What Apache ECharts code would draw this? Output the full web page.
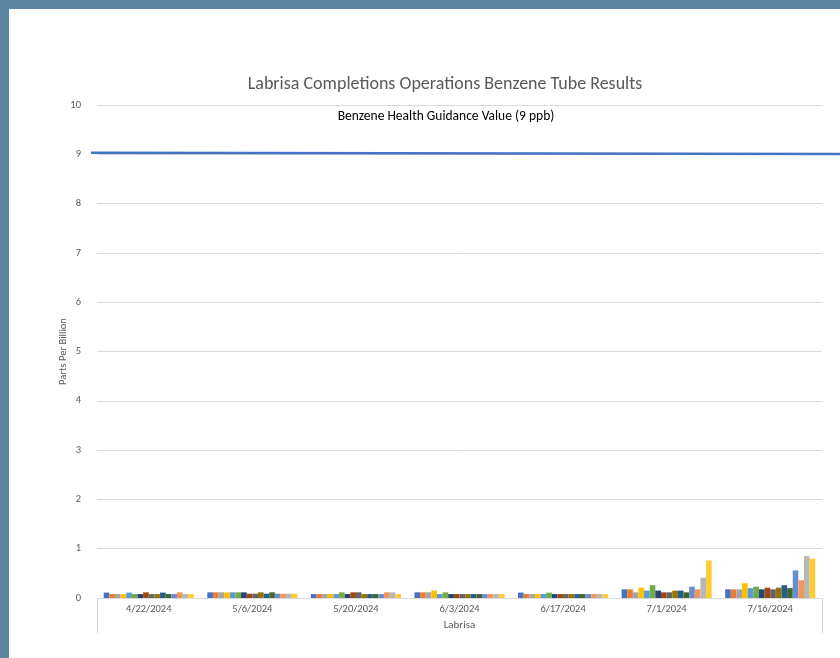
<!DOCTYPE html>
<html>
<head>
<meta charset="utf-8">
<script src="https://cdn.jsdelivr.net/npm/echarts@6/dist/echarts.min.js"></script>
<style>
html,body{margin:0;padding:0;background:#5B87A2;}
#frame{position:absolute;left:9px;top:9px;width:831px;height:649px;background:#fff;}
#chart{position:absolute;left:0;top:0;width:840px;height:658px;}
</style>
</head>
<body>
<div id="frame"></div>
<div id="chart"></div>
<script>
const categories = ['4/22/2024','5/6/2024','5/20/2024','6/3/2024','6/17/2024','7/1/2024','7/16/2024'];
const groupLabel = ['Labrisa'];
const yTicks = [0,1,2,3,4,5,6,7,8,9,10];
const guidanceValue = 9;
const seriesNames = ['Tube 1','Tube 2','Tube 3','Tube 4','Tube 5','Tube 6','Tube 7','Tube 8','Tube 9','Tube 10','Tube 11','Tube 12','Tube 13','Tube 14','Tube 15','Tube 16'];
// values per tube across the 7 sample dates
const tube1  = [0.11,0.115,0.08,0.115,0.11,0.176,0.176];
const tube2  = [0.08,0.115,0.08,0.115,0.08,0.176,0.176];
const tube3  = [0.08,0.115,0.08,0.115,0.08,0.115,0.176];
const tube4  = [0.08,0.115,0.08,0.15,0.08,0.21,0.30];
const tube5  = [0.11,0.115,0.08,0.08,0.08,0.15,0.20];
const tube6  = [0.08,0.115,0.115,0.115,0.11,0.26,0.23];
const tube7  = [0.08,0.115,0.08,0.08,0.08,0.15,0.176];
const tube8  = [0.115,0.087,0.115,0.08,0.08,0.115,0.21];
const tube9  = [0.08,0.087,0.115,0.08,0.08,0.115,0.176];
const tube10 = [0.08,0.115,0.08,0.08,0.08,0.15,0.21];
const tube11 = [0.11,0.087,0.08,0.08,0.08,0.15,0.26];
const tube12 = [0.08,0.115,0.08,0.08,0.08,0.115,0.20];
const tube13 = [0.08,0.087,0.08,0.08,0.08,0.23,0.56];
const tube14 = [0.115,0.087,0.115,0.08,0.08,0.176,0.36];
const tube15 = [0.08,0.087,0.115,0.08,0.08,0.41,0.85];
const tube16 = [0.08,0.087,0.08,0.08,0.08,0.76,0.80];
const seriesValues = [tube1,tube2,tube3,tube4,tube5,tube6,tube7,tube8,tube9,tube10,tube11,tube12,tube13,tube14,tube15,tube16];
const palette = ['#4472C4','#ED7D31','#A5A5A5','#FFC000','#5B9BD5','#70AD47','#264478','#9E480E','#636363','#997300','#255E91','#43682B','#698ED0','#F1975A','#B7B7B7','#FFCD33'];

const chart = echarts.init(document.getElementById('chart'), null, {renderer:'canvas'});
const fontFam = 'Calibri, Lato, "Noto Sans", sans-serif';
const option = {
  backgroundColor: 'transparent',
  color: palette,
  animation: false,
  title: {
    text: 'Labrisa Completions Operations Benzene Tube Results',
    left: 440, top: 70, textAlign: 'center',
    textStyle: {fontFamily: fontFam, fontSize: 18, fontWeight: 'normal', color: '#595959'}
  },
  grid: {left: 97, right: 18, top: 105, bottom: 60, containLabel: false},
  xAxis: [{
    type: 'category', data: categories, position: 'bottom',
    axisLine: {show: true, lineStyle: {color: '#D9D9D9', width: 1}},
    axisTick: {show: false},
    axisLabel: {fontFamily: fontFam, fontSize: 10.5, color: '#595959', margin: 6}
  },{
    type: 'category', data: groupLabel, position: 'bottom',
    axisLine: {show: false},
    axisTick: {show: true, alignWithLabel: false, length: 35, lineStyle: {color: '#D9D9D9'}},
    axisLabel: {fontFamily: fontFam, fontSize: 11, color: '#595959', margin: 22},
    splitLine: {show: false}
  }],
  yAxis: {
    type: 'value', min: 0, max: 10, interval: 1,
    name: 'Parts Per Billion', nameLocation: 'middle', nameGap: 28, nameRotate: 90,
    nameMoveOverlap: false,
    nameTextStyle: {fontFamily: fontFam, fontSize: 10.5, color: '#595959'},
    axisLine: {show: false}, axisTick: {show: false},
    axisLabel: {fontFamily: fontFam, fontSize: 10.5, color: '#595959', margin: 16,
      formatter: v => yTicks.includes(v) ? String(v) : ''},
    splitLine: {lineStyle: {color: '#D9D9D9', width: 1}}
  },
  series: seriesValues.map((vals, i) => ({
    name: seriesNames[i], type: 'bar', data: vals, xAxisIndex: 0,
    barGap: '0%', barCategoryGap: '13%',
    itemStyle: {color: palette[i]}
  }))
};
chart.setOption(option);

function addGuidance() {
  const y = chart.convertToPixel({yAxisIndex: 0}, guidanceValue) - 1.5;
  chart.setOption({
    graphic: [{
      type: 'line', silent: true, z: 100,
      shape: {x1: 91, y1: y, x2: 840, y2: y + 1.2},
      style: {stroke: '#4472C4', lineWidth: 2.5}
    },{
      type: 'text', silent: true, z: 100,
      x: 446, y: chart.convertToPixel({yAxisIndex: 0}, 9.8) + 2,
      style: {text: 'Benzene Health Guidance Value (9 ppb)', fontFamily: fontFam, fontSize: 13.5,
        fill: '#000', align: 'center', verticalAlign: 'middle'}
    }]
  });
}
addGuidance();
</script>
</body>
</html>
